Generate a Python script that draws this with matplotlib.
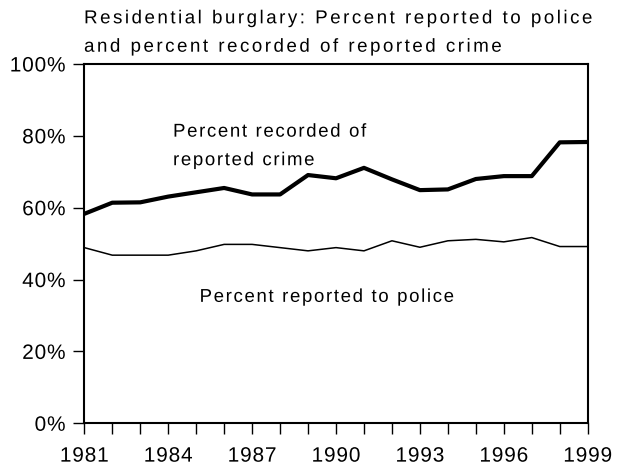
import matplotlib.pyplot as plt
import matplotlib.transforms as mtransforms
from matplotlib.font_manager import FontProperties, findfont
from matplotlib.ft2font import FT2Font
from matplotlib.textpath import TextPath
from matplotlib.patches import PathPatch
from matplotlib.path import Path

# Data
years = list(range(1981, 2000))
pct_recorded = [58.3, 61.4, 61.5, 63.1, 64.3, 65.5, 63.7, 63.7, 69.1, 68.2,
                71.1, 67.9, 64.9, 65.1, 68.0, 68.8, 68.8, 78.2, 78.3]
pct_reported = [48.9, 46.8, 46.8, 46.8, 48.0, 49.8, 49.8, 48.9, 48.0, 48.9,
                48.0, 50.8, 49.0, 50.8, 51.2, 50.5, 51.7, 49.2, 49.2]
x_ticks = [1981, 1984, 1987, 1990, 1993, 1996, 1999]
y_ticks = [0, 20, 40, 60, 80, 100]
title_lines = ["Residential burglary: Percent reported to police",
               "and percent recorded of reported crime"]

FONT = FontProperties(family="Liberation Sans")

fig = plt.figure(figsize=(6.18, 4.68), dpi=100)
ax = fig.add_axes([0.1364, 0.0955, 0.8146, 0.7677])


# the reference text is letter-spaced, so draw it glyph by glyph as paths
def tracked_text(x, y, s, trans, size, track, ha="left", dx=0.0, dy=0.0):
    ft = FT2Font(findfont(FONT))
    ft.set_size(size, 72)
    adv = [ft.load_char(ord(c)).linearHoriAdvance / 65536 for c in s]
    total = sum(adv) + track * (len(s) - 1)
    pos = {"left": 0.0, "center": -total / 2, "right": -total}[ha]
    parts = []
    for c, a in zip(s, adv):
        if not c.isspace():
            parts.append(TextPath((pos, 0), c, size=size, prop=FONT))
        pos += a + track
    path = Path.make_compound_path(*parts)
    t = (mtransforms.Affine2D().translate(dx, dy).scale(1 / 72)
         + fig.dpi_scale_trans + mtransforms.ScaledTranslation(x, y, trans))
    fig.add_artist(PathPatch(path, transform=t, facecolor="black",
                             edgecolor="none", lw=0))


ax.plot(years, pct_recorded, color="black", lw=3.0, solid_capstyle="butt")
ax.plot(years, pct_reported, color="black", lw=1.1, solid_capstyle="butt")

ax.set_xlim(1981, 1999)
ax.set_ylim(0, 100)
ax.set_xticks(years)
ax.set_yticks(y_ticks)
for s in ax.spines.values():
    s.set_linewidth(1.5)
ax.tick_params(direction="out", length=8, width=1, labelbottom=False,
               labelleft=False)

tick_size = 15
for yr in x_ticks:
    tracked_text(yr, 0, str(yr), ax.transData, tick_size, 0.6, ha="center",
                 dy=-27.6)
for v in y_ticks:
    tracked_text(1981, v, f"{v}%", ax.transData, tick_size, 0.6, ha="right",
                 dx=-13.5, dy=-0.716 * tick_size / 2)

# series labels
tracked_text(0.28, 0.708, "Percent recorded of", fig.transFigure, 13.4, 1.2)
tracked_text(0.28, 0.647, "reported crime", fig.transFigure, 13.4, 1.2)
tracked_text(0.323, 0.355, "Percent reported to police", fig.transFigure,
             13.4, 1.2)

# title
tracked_text(0.136, 0.9502, title_lines[0], fig.transFigure, 13.5, 1.8)
tracked_text(0.136, 0.8895, title_lines[1], fig.transFigure, 13.5, 1.8)

fig.savefig("out.png", dpi=100)
